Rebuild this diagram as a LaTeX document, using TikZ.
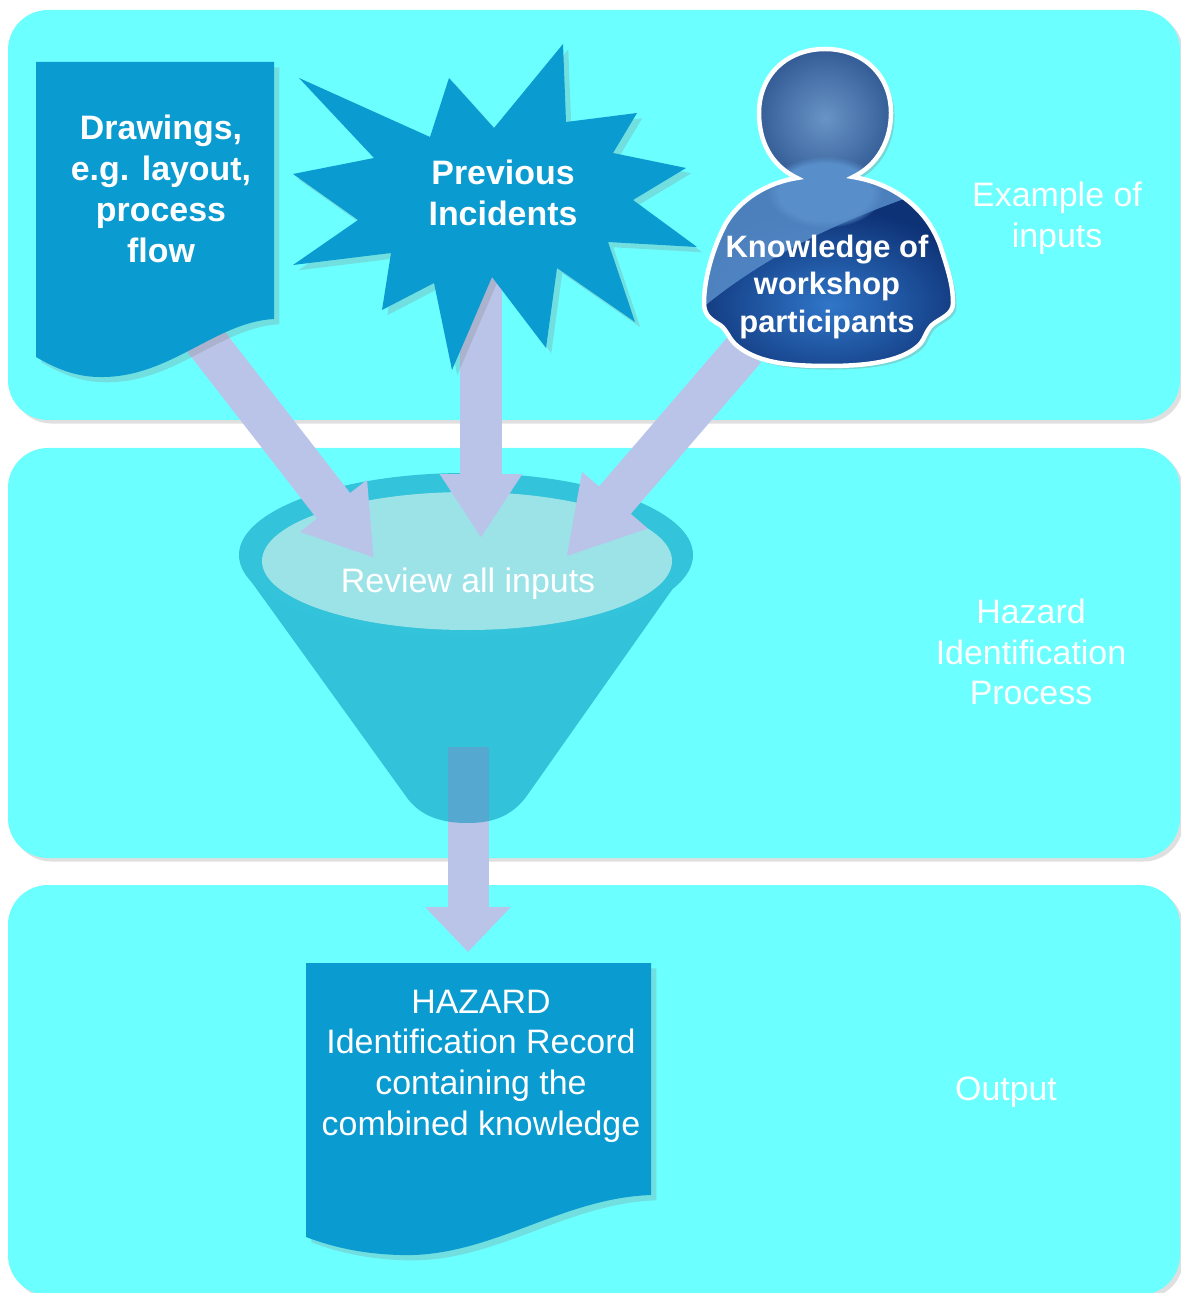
\documentclass[tikz,border=0pt]{standalone}
\usepackage{fontspec}
\setmainfont{Liberation Sans}
\usepackage{tikz}
\usetikzlibrary{arrows.meta, shadows, fadings}
\definecolor{panelcyan}{RGB}{108, 255, 255}
\definecolor{docblue}{RGB}{10, 155, 208}
\definecolor{funnelblue}{RGB}{4, 146, 188}
\definecolor{rimblue}{RGB}{51, 195, 218}
\definecolor{mouthblue}{RGB}{156, 227, 232}
\definecolor{arrowlilac}{RGB}{185, 196, 232}
\definecolor{headmid}{RGB}{104, 148, 198}
\definecolor{headedge}{RGB}{40, 80, 140}
\definecolor{glossblue}{RGB}{88, 142, 202}
\definecolor{bodymid}{RGB}{48, 118, 200}
\definecolor{bodyedge}{RGB}{14, 50, 118}
\newcommand{\personpath}{(797,178) .. controls (770,165) and (759,140) .. (759,113) .. controls (759,75) and (787,49) .. (825,49) .. controls (863,49) and (891,75) .. (891,113) .. controls (891,140) and (878,165) .. (853,177) .. controls (890,183) and (925,205) .. (940,245) .. controls (948,270) and (953,285) .. (953,303) .. controls (953,315) and (940,318) .. (932,325) .. controls (925,332) and (925,340) .. (918,346) .. controls (900,362) and (865,366) .. (828,366) .. controls (785,366) and (755,362) .. (735,344) .. controls (728,337) and (727,330) .. (720,325) .. controls (712,320) and (704,316) .. (704,303) .. controls (704,280) and (712,250) .. (725,225) .. controls (740,198) and (770,182) .. (797,178) -- cycle}
\begin{document}
\begin{tikzpicture}[x=0.02cm,y=-0.02cm,
  panel/.style={fill=panelcyan,rounded corners=0.8cm,drop shadow={shadow xshift=2pt,shadow yshift=-2pt,opacity=0.25}},
  docshape/.style={fill=docblue,drop shadow={shadow xshift=3pt,shadow yshift=-3pt,opacity=0.25}},
  blockarrow/.style={arrowlilac,line width=0.84cm,-{Triangle[length=1.32cm,width=1.6cm]}},
  boldlabel/.style={text=white,align=center,font=\fontsize{19.3}{23.2}\selectfont\bfseries},
  pltlabel/.style={text=white,align=center,font=\fontsize{19.3}{23.2}\selectfont},
  persontext/.style={text=white,align=center,font=\fontsize{17.6}{21.5}\selectfont\bfseries}]
\useasboundingbox (0,0) rectangle (1181,1293);
\clip (0,0) rectangle (1181,1293);
\foreach \Ytop in {10,448,885}
{\fill[panel] (8,\Ytop) rectangle ++(1172,410);}
\coordinate (funnelout) at (468,747);
\coordinate (recordin) at (468,952);
\draw[blockarrow,line width=0.82cm,-{Triangle[length=0.9cm,width=1.66cm]}] (funnelout) -- (recordin);
% funnel
\fill[funnelblue,opacity=0.55] (245,573) -- (405,795) .. controls (420,818) and (445,823) .. (467,823) .. controls (490,823) and (510,818) .. (526,797) -- (688,567) -- (466,545) -- cycle;
\fill[rimblue] (466,555) ellipse (227 and 82);
\fill[mouthblue] (467,561) ellipse (205 and 69);
\node[pltlabel] (review) at (468,584) {Review all inputs};
% inputs
\coordinate (drawingsout) at (190,321);
\coordinate (incidentsout) at (481,270);
\coordinate (peopleout) at (745,349);
\coordinate (funnelleft) at (374,558);
\coordinate (funnelmid) at (481,538);
\coordinate (funnelright) at (566,557);
\draw[blockarrow] (drawingsout) -- (funnelleft);
\draw[blockarrow,-{Triangle[length=1.28cm,width=1.56cm]}] (incidentsout) -- (funnelmid);
\draw[blockarrow,-{Triangle[length=1.5cm,width=1.62cm]}] (peopleout) -- (funnelright);
\fill[docshape] (36,62) -- (274,62) -- (274,319) .. controls (215,322) and (170,378) .. (100,377) .. controls (75,377) and (55,368) .. (36,357) -- cycle;
\node[boldlabel] (drawings) at (161,189) {Drawings,\\e.g. layout,\\process\\flow};
\fill[docshape] (563,44) -- (566,122) -- (637,113) -- (613,153) -- (686,168) -- (633,200) -- (697,247) -- (608,242) -- (635,322) -- (557,268) -- (546,348) -- (492,277) -- (452,370) -- (434,283) -- (382,310) -- (391,253) -- (293,265) -- (358,220) -- (293,174) -- (374,158) -- (299,78) -- (430,137) -- (449,78) -- (494,128) -- cycle;
\node[boldlabel] (incidents) at (503,193) {Previous\\Incidents};
% person
\fill[white,drop shadow={shadow xshift=2pt,shadow yshift=-2pt,opacity=0.3}] \personpath;
\begin{scope}
\path[clip] \personpath;
\fill[bodyedge] (690,40) rectangle (970,380);
\shade[inner color=bodymid,outer color=bodyedge] (830,305) ellipse (150 and 95);
\fill[glossblue,opacity=0.85] (690,318) .. controls (760,258) and (830,225) .. (915,195) -- (915,40) -- (690,40) -- cycle;
\shade[inner color=headmid,outer color=headedge] (825,118) ellipse (84 and 84);
\fill[glossblue,path fading=circle with fuzzy edge 20 percent] (825,192) ellipse (58 and 36);
\end{scope}
\draw[white,line width=0.09cm] \personpath;
\node[persontext] (people) at (827,287) {Knowledge of\\workshop\\participants};
% output
\fill[docshape] (306,963) -- (651,963) -- (651,1195) .. controls (560,1198) and (490,1258) .. (400,1255) .. controls (365,1254) and (335,1248) .. (306,1237) -- cycle;
\node[pltlabel] (record) at (481,1066) {HAZARD\\Identification Record\\containing the\\combined knowledge};
% stage labels
\node[pltlabel] (inputslabel) at (1057,218) {Example of\\inputs};
\node[pltlabel] (processlabel) at (1031,652) {Hazard\\Identification\\Process};
\node[pltlabel] (outputlabel) at (1006,1092) {Output};
\end{tikzpicture}
\end{document}
